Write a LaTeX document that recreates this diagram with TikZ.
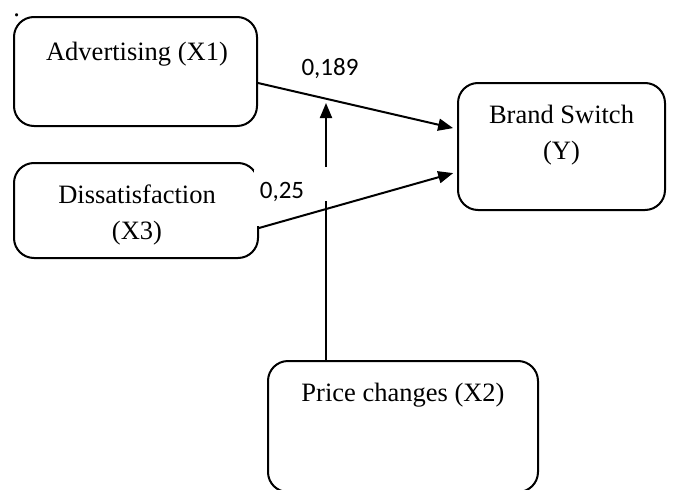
\documentclass[tikz,border=0pt]{standalone}
\usepackage{fontspec}
\setmainfont{Liberation Serif}
\newfontfamily\labfont{Carlito}
\usetikzlibrary{arrows.meta,calc}
\begin{document}
\begin{tikzpicture}[x=1pt,y=-1pt, line width=2pt,
  box/.style={draw, rounded corners=20pt, inner sep=0pt},
  txt/.style={font=\fontsize{26.5}{36}\selectfont, align=center, inner sep=0pt},
  coef/.style={font=\labfont\fontsize{25}{30}\selectfont, inner sep=0pt},
  arr/.style={-{Triangle[length=15pt,width=12pt]}}]
\useasboundingbox (0,0) rectangle (673,490);
\clip (0,0) rectangle (673,490);
% boxes
\node[box, minimum width=243pt, minimum height=109pt] (adv) at (135.5,71.5) {};
\node[box, minimum width=244pt, minimum height=95pt] (dis) at (136,210.5) {};
\node[box, minimum width=207pt, minimum height=127pt] (bs) at (561.5,146.5) {};
\node[box, minimum width=270pt, minimum height=131pt] (pc) at (403,426.5) {};
% texts
\node[txt, anchor=base, text height=4pt] (dot) at (16.7,16) {.};
\node[txt, anchor=base] (advt) at (137,60) {Advertising (X1)};
\node[txt, anchor=base] (dist) at (137,239) {Dissatisfaction\\(X3)};
\node[txt, anchor=base] (bst) at (561.5,159) {Brand Switch\\(Y)};
\node[txt, anchor=base] (pct) at (403,401.5) {Price changes (X2)};
% coefficient labels
\node[coef, anchor=base] (c1) at (330,75) {0,189};
\node[coef, anchor=base, fill=white, text height=28pt, text depth=28pt, minimum width=56pt] (c2) at (282,198) {0,25};
% connectors
\coordinate (vtop) at (326,103);
\coordinate (vgapt) at (326,167);
\coordinate (vgapb) at (326,201);
\draw[arr, shorten >=4pt] ($(adv.east)+(0,11.5)$) -- ($(bs.west)+(0,-17.5)$);
\draw[arr, shorten >=4pt] ($(dis.east)+(0,17.5)$) -- ($(bs.west)+(0,25.5)$);
\draw (pc.north -| vtop) -- (vgapb);
\draw[arr] (vgapt) -- (vtop);
\end{tikzpicture}
\end{document}
